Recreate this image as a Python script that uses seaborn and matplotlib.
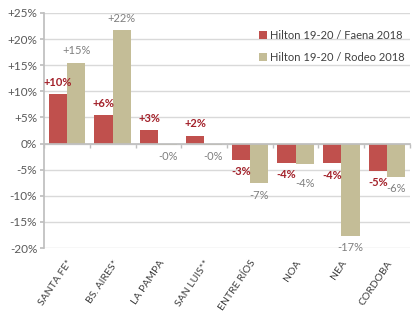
import matplotlib
matplotlib.use("Agg")
import matplotlib.pyplot as plt
import seaborn as sns
import pandas as pd
import numpy as np

categories = ["SANTA FE*", "BS. AIRES*", "LA PAMPA", "SAN LUIS**", "ENTRE RÍOS", "NOA", "NEA", "CORDOBA"]
series_names = ["Hilton 19-20 / Faena 2018", "Hilton 19-20 / Rodeo 2018"]
faena = [9.4, 5.4, 2.55, 1.5, -3.1, -3.7, -3.8, -5.25]
rodeo = [15.5, 21.7, -0.2, -0.2, -7.6, -4.0, -17.6, -6.4]
faena_labels = ["+10%", "+6%", "+3%", "+2%", "-3%", "-4%", "-4%", "-5%"]
rodeo_labels = ["+15%", "+22%", "-0%", "-0%", "-7%", "-4%", "-17%", "-6%"]
yticks = [-20, -15, -10, -5, 0, 5, 10, 15, 20, 25]
ytick_labels = ["-20%", "-15%", "-10%", "-5%", "0%", "+5%", "+10%", "+15%", "+20%", "+25%"]

sns.set_theme(style="white")
plt.rcParams["font.family"] = ["Lato", "DejaVu Sans"]

df = pd.DataFrame({
    "cat": categories * 2,
    "val": faena + rodeo,
    "series": [series_names[0]] * len(categories) + [series_names[1]] * len(categories),
})

fig = plt.figure(figsize=(4.2, 3.14), dpi=100)
ax = fig.add_axes([0.105, 0.21, 0.871, 0.749])
sns.barplot(data=df, x="cat", y="val", hue="series", order=categories,
            hue_order=series_names, palette=["#c0504d", "#c4bd97"],
            width=0.8, linewidth=0, saturation=1, ax=ax, legend=True)

ax.set_ylim(-20, 25)
ax.set_xlim(-0.5, len(categories) - 0.5)
ax.set_yticks(yticks)
ax.set_yticklabels(ytick_labels)
ax.yaxis.grid(True, color="#d9d9d9", linewidth=1)
ax.set_axisbelow(True)
ax.set_xlabel("")
ax.set_ylabel("")

for s in ["top", "right"]:
    ax.spines[s].set_visible(False)
ax.spines["left"].set_color("#bfbfbf")
ax.spines["bottom"].set_position(("data", 0))
ax.spines["bottom"].set_color("#bfbfbf")

ax.set_xticks(np.arange(len(categories)))
ax.set_xticks(np.arange(len(categories) + 1) - 0.5, minor=True)
ax.set_xticklabels(categories, rotation=56, ha="right", rotation_mode="anchor")
ax.tick_params(axis="x", which="major", length=0, pad=83, labelsize=7.5, labelcolor="#404040")
ax.tick_params(axis="x", which="minor", length=3, direction="out", color="#bfbfbf", bottom=True)
ax.tick_params(axis="y", length=3, color="#bfbfbf", left=True, labelsize=8.5, labelcolor="#595959", pad=2)

red_c, tan_c = ax.containers[0], ax.containers[1]
for i, (rb, tb) in enumerate(zip(red_c, tan_c)):
    for bar, lab, col, wt, extra in [
        (rb, faena_labels[i], "#a3212a", "bold", 0),
        (tb, rodeo_labels[i], "#7f7f7f", "normal",
         5 if (tb.get_height() < 0 and abs(tb.get_height() - rb.get_height()) < 1) else 0)]:
        h = bar.get_height()
        xc = bar.get_x() + bar.get_width() / 2
        off = 4.5 if h >= 0 else -(4.5 + extra)
        ax.annotate(lab, (xc, h), xytext=(0, off), textcoords="offset points",
                    ha="center", va="bottom" if h >= 0 else "top",
                    fontsize=8, color=col, fontweight=wt)

leg = ax.legend(loc="upper left", bbox_to_anchor=(0.575, 0.945), frameon=False,
                fontsize=8, handlelength=0.7, handleheight=0.7, handletextpad=0.3,
                labelspacing=0.95, borderaxespad=0)
for t in leg.get_texts():
    t.set_color("#404040")

fig.savefig("out.png", dpi=100, facecolor="white")
